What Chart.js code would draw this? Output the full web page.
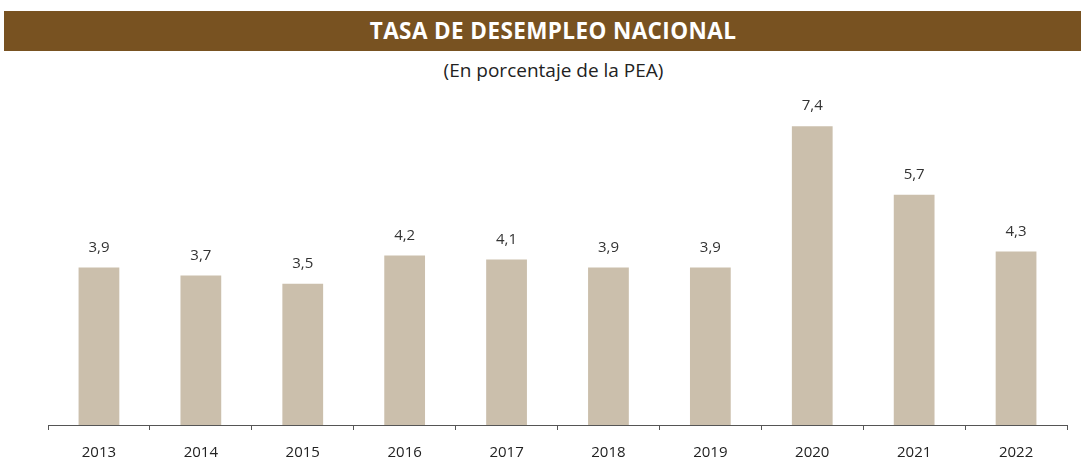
<!DOCTYPE html>
<html>
<head>
<meta charset="utf-8">
<script src="https://cdn.jsdelivr.net/npm/chart.js@4"></script>
<style>
  html, body { margin: 0; padding: 0; background: #fff; width: 1081px; height: 460px; overflow: hidden; }
  #banner { position: absolute; left: 4px; top: 11px; width: 1077px; height: 40px; background: #785221;
    color: #fff; font-family: "Open Sans", sans-serif; font-weight: bold; font-size: 22.5px;
    line-height: 40px; text-align: center; text-indent: 21px; letter-spacing: 0.4px; }
  #sub { position: absolute; left: 0; top: 57px; width: 1081px; text-align: center;
    font-family: "Open Sans", sans-serif; font-size: 19px; color: #222; text-indent: 26px; }
  #wrap { position: absolute; left: 0; top: 80px; width: 1081px; height: 396px; }
</style>
</head>
<body>
<div id="banner">TASA DE DESEMPLEO NACIONAL</div>
<div id="sub">(En porcentaje de la PEA)</div>
<div id="wrap"><canvas id="c"></canvas></div>
<script>
const categories = ["2013","2014","2015","2016","2017","2018","2019","2020","2021","2022"];
const values = [3.9, 3.7, 3.5, 4.2, 4.1, 3.9, 3.9, 7.4, 5.7, 4.3];

const labelPlugin = {
  id: 'vals',
  afterDatasetsDraw(chart) {
    const ctx = chart.ctx;
    const meta = chart.getDatasetMeta(0);
    ctx.save();
    ctx.font = '15px "Open Sans", sans-serif';
    ctx.fillStyle = '#333';
    ctx.textAlign = 'center';
    ctx.textBaseline = 'middle';
    meta.data.forEach((bar, i) => {
      ctx.fillText(values[i].toFixed(1).replace('.', ','), bar.x, bar.y - 20);
    });
    ctx.restore();
  }
};

new Chart(document.getElementById('c'), {
  type: 'bar',
  data: {
    labels: categories,
    datasets: [{
      data: values,
      backgroundColor: '#cbbfac',
      barPercentage: 0.5,
      categoryPercentage: 0.8
    }]
  },
  options: {
    responsive: true,
    maintainAspectRatio: false,
    animation: false,
    layout: { padding: { left: 48, right: 14, top: 22, bottom: 0 } },
    plugins: { legend: { display: false }, tooltip: { enabled: false }, title: { display: false } },
    scales: {
      x: {
        grid: { display: true, drawOnChartArea: false, drawTicks: true, tickLength: 5, color: '#555', offset: true },
        border: { display: true, color: '#555', width: 1 },
        ticks: { color: '#222', font: { family: '"Open Sans", sans-serif', size: 15 }, padding: 14, maxRotation: 0 }
      },
      y: {
        display: false,
        min: 0,
        max: 8
      }
    }
  },
  plugins: [labelPlugin]
});
</script>
</body>
</html>
